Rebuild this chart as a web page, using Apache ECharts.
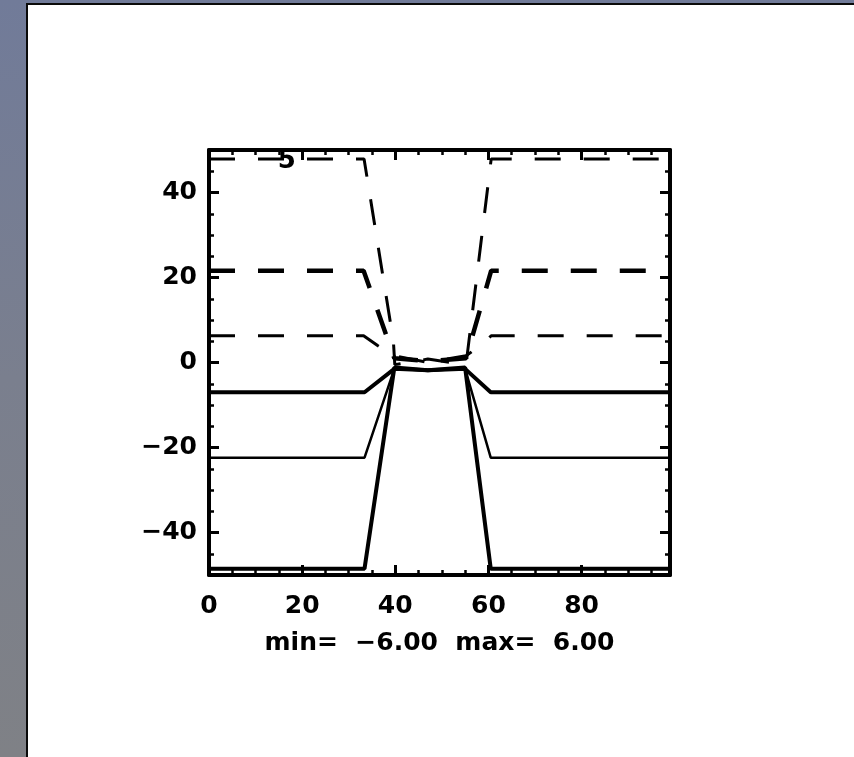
<!DOCTYPE html>
<html>
<head>
<meta charset="utf-8">
<script src="https://cdn.jsdelivr.net/npm/echarts@6/dist/echarts.min.js"></script>
<style>
    html, body {
        margin: 0;
        padding: 0;
        width: 854px;
        height: 757px;
        overflow: hidden;
        background: linear-gradient(to bottom, #717b99 0%, #7a7f8e 50%, #7f8186 100%);
    }
    #panel {
        position: absolute;
        left: 26px;
        top: 3px;
        right: 0;
        bottom: 0;
        background: #fff;
        border-left: 2px solid #0a0a0a;
        border-top: 2px solid #0a0a0a;
    }
    #chart {
        position: absolute;
        left: 0;
        top: 0;
        width: 854px;
        height: 757px;
    }
</style>
</head>
<body>
<div id="panel"></div>
<div id="chart"></div>
<script>
// x positions of the break points
var xSolid = [0, 33.4, 39.8, 47, 55.0, 60.5, 99];
var solidThick1 = [-7, -7, -1.5, -1.8, -1.5, -7, -7];
var solidThin = [-22.4, -22.4, -1.5, -1.8, -1.5, -22.4, -22.4];
var solidThick2 = [-48.5, -48.5, -1.2, -1.8, -1.2, -48.5, -48.5];

var xDash1 = [0, 33.2, 36.2, 39.8, 47, 55.2, 58.9, 60.6, 99];
var dash1 = [6.3, 6.3, 4.0, 1.6, 0, 1.6, 4.4, 6.3, 6.3];
var xDash2 = [0, 33.2, 39.8, 47, 55.2, 60.6, 99];
var dash2 = [21.6, 21.6, 1.0, 0.3, 1.0, 21.6, 21.6];
var xDash3 = [0, 33.3, 39.6, 39.9, 47, 55.2, 60.6, 99];
var dash3 = [47.9, 47.9, 5, -0.5, 0.8, -0.5, 47.9, 47.9];

var xRange = [0, 99];
var yRange = [-50, 50];
var labelText = '5';
var labelAt = [16.7, 47.4];
var subTitle = 'min=  \u22126.00  max=  6.00';

var FONT = 'DejaVu Sans';
var FONT_SIZE = 25;

function pairs(xs, ys) {
    return xs.map(function (x, i) {
        return [x, ys[i]];
    });
}

function lineSeries(xs, ys, width, dash) {
    return {
        type: 'line',
        data: pairs(xs, ys),
        symbol: 'none',
        silent: true,
        animation: false,
        lineStyle: {
            color: '#000',
            width: width,
            type: dash ? [26, 23] : 'solid',
            cap: 'butt'
        }
    };
}

function axisBase(pos, showLabel) {
    var isX = pos === 'bottom' || pos === 'top';
    var range = isX ? xRange : yRange;
    return {
        type: 'value',
        position: pos,
        min: range[0],
        max: range[1],
        axisLine: {
            show: true,
            onZero: false,
            lineStyle: {color: '#000', width: 4}
        },
        axisTick: {
            show: true,
            inside: true,
            length: 10,
            lineStyle: {color: '#000', width: 3}
        },
        minorTick: {
            show: true,
            splitNumber: 4,
            length: 5,
            lineStyle: {color: '#000', width: 2.5}
        },
        splitLine: {show: false},
        minorSplitLine: {show: false},
        axisLabel: {
            show: showLabel,
            showMinLabel: isX,
            showMaxLabel: false,
            color: '#000',
            fontFamily: FONT,
            fontWeight: 'bold',
            fontSize: FONT_SIZE,
            margin: isX ? 19 : 12,
            formatter: function (v) {
                if (!isX && Math.abs(v) === 50) return '';
                if (isX && v === 99) return '';
                return String(v).replace('-', '\u2212');
            }
        }
    };
}

var chart = echarts.init(document.getElementById('chart'), null, {renderer: 'canvas'});

var xBottom = axisBase('bottom', true);
xBottom.name = subTitle;
xBottom.nameLocation = 'middle';
xBottom.nameGap = 56;
xBottom.nameTextStyle = {color: '#000', fontFamily: FONT, fontWeight: 'bold', fontSize: FONT_SIZE};

var topSeries = lineSeries(xDash3, dash3, 3, true);
topSeries.markPoint = {
    silent: true,
    animation: false,
    symbol: 'rect',
    symbolSize: 1,
    itemStyle: {color: 'rgba(0,0,0,0)'},
    label: {
        show: true,
        position: 'inside',
        color: '#000',
        fontFamily: FONT,
        fontWeight: 'bold',
        fontSize: 26,
        formatter: labelText
    },
    data: [{coord: labelAt}]
};

var option = {
    backgroundColor: 'transparent',
    animation: false,
    grid: {
        left: 209,
        right: 184,
        top: 150,
        bottom: 182,
        containLabel: false
    },
    xAxis: [xBottom, axisBase('top', false)],
    yAxis: [axisBase('left', true), axisBase('right', false)],
    series: [
        lineSeries(xSolid, solidThick1, 4, false),
        lineSeries(xSolid, solidThin, 2.5, false),
        lineSeries(xSolid, solidThick2, 4, false),
        lineSeries(xDash1, dash1, 3, true),
        lineSeries(xDash2, dash2, 4.5, true),
        topSeries
    ]
};
chart.setOption(option);
</script>
</body>
</html>
